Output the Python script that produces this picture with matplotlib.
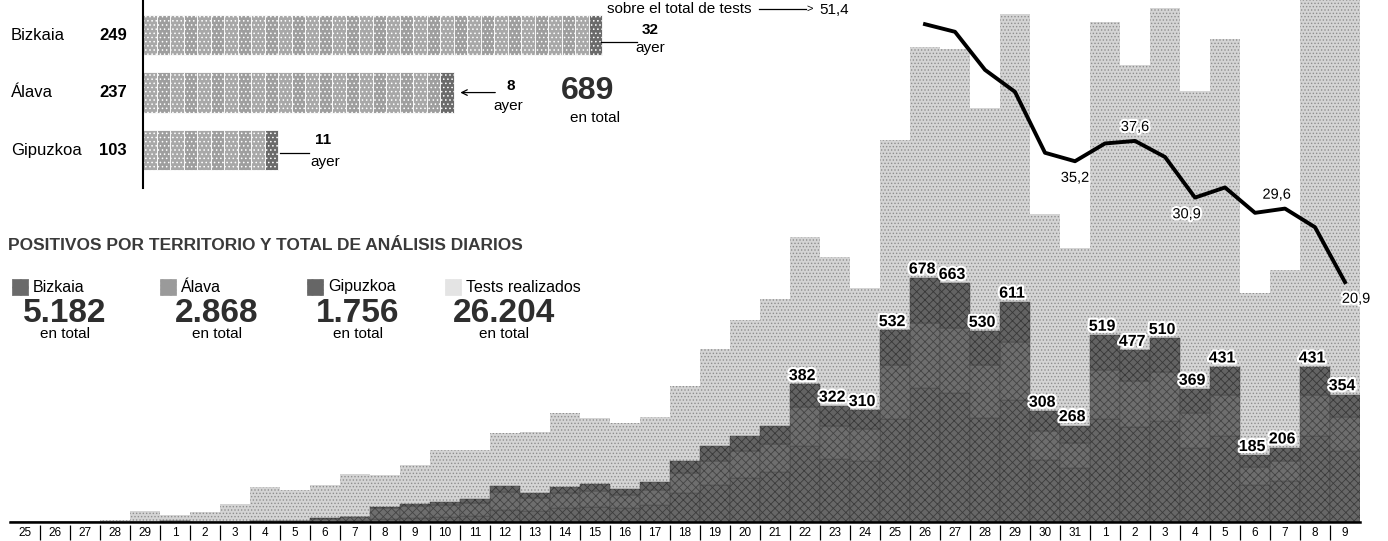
import matplotlib.pyplot as plt
import matplotlib.patheffects as pe
from matplotlib.patches import Rectangle
import numpy as np

plt.rcParams['font.family'] = ['Liberation Sans', 'DejaVu Sans']
plt.rcParams['hatch.linewidth'] = 0.6

# fechas del eje (25 feb - 9 abr)
dias = ['25', '26', '27', '28', '29'] + [str(d) for d in range(1, 32)] + [str(d) for d in range(1, 10)]

# positivos diarios por territorio
bizkaia = [0, 0, 0, 0, 0, 0, 0, 0, 0, 1, 1, 2, 8, 12, 14, 18, 34, 30, 38, 42, 38, 48, 80, 104, 122,
           138, 210, 175, 170, 285, 371, 358, 290, 339, 172, 150, 287, 265, 280, 205, 239, 104, 115, 239, 198]
alava = [0, 0, 0, 0, 0, 2, 1, 0, 4, 3, 8, 12, 30, 32, 34, 36, 50, 36, 42, 44, 36, 40, 56, 66, 74,
         80, 110, 92, 88, 150, 182, 182, 145, 160, 80, 70, 136, 128, 136, 98, 115, 48, 54, 115, 93]
gipuzkoa = [0, 0, 0, 0, 0, 0, 0, 0, 0, 0, 1, 1, 4, 6, 8, 10, 16, 14, 17, 19, 18, 22, 34, 40, 44,
            50, 62, 55, 52, 97, 125, 123, 95, 112, 56, 48, 96, 84, 94, 66, 77, 33, 37, 77, 63]
# tests realizados cada dia
tests = [2, 3, 3, 5, 30, 20, 28, 50, 97, 89, 103, 133, 130, 158, 200, 200, 247, 250, 303, 289,
         275, 292, 379, 480, 560, 620, 792, 736, 650, 1061, 1319, 1313, 1150, 1410, 855, 761,
         1390, 1269, 1429, 1196, 1343, 636, 700, 1573, 1694]
# % de positivos sobre el total de tests (desde el 26 de marzo)
porcentaje = [None] * 30 + [51.4, 50.5, 46.0, 43.4, 36.2, 35.2, 37.3, 37.6, 35.7, 30.9,
                            32.1, 29.1, 29.6, 27.4, 20.9]
etiquetas_pct = {35: '35,2', 37: '37,6', 39: '30,9', 42: '29,6', 44: '20,9'}

# bloque superior
territorios = ['Bizkaia', 'Álava', 'Gipuzkoa']
fallecidos = [249, 237, 103]
ayer = [32, 8, 11]
tramos = [34, 23, 10]

leyenda = ['Bizkaia', 'Álava', 'Gipuzkoa', 'Tests realizados']
totales = ['5.182', '2.868', '1.756', '26.204']

W, H = 1388, 541


def fx(px):
    return px / W


def fy(py):
    return 1 - py / H


fig = plt.figure(figsize=(W / 100, H / 100), dpi=100)
halo = [pe.withStroke(linewidth=3, foreground='white')]

# --- grafico principal ---
ax = fig.add_axes([fx(10), fy(522), (1350) / W, 522 / H])
x = np.arange(len(dias))
bz = np.array(bizkaia)
al = np.array(alava)
gi = np.array(gipuzkoa)
ax.bar(x, tests, width=1.0, color='#d4d4d4', hatch='.....', edgecolor='#8e8e8e', linewidth=0, zorder=1)
ax.bar(x, bz, width=1.0, color='#676767', hatch='xxxx', edgecolor='#3c3c3c', linewidth=0.3, zorder=2)
ax.bar(x, al, width=1.0, bottom=bz, color='#6e6e6e', hatch='xxxx', edgecolor='#444444', linewidth=0.3, zorder=2)
ax.bar(x, gi, width=1.0, bottom=bz + al, color='#636363', hatch='xxxx', edgecolor='#383838', linewidth=0.3, zorder=2)
ax.set_xlim(-0.5, len(dias) - 0.5)
ax.set_ylim(0, 1450)
for s in ['top', 'right', 'left']:
    ax.spines[s].set_visible(False)
ax.spines['bottom'].set_linewidth(1.8)
ax.set_xticks([])
ax.set_yticks([])
ax.patch.set_alpha(0)

total = bz + al + gi
for i in range(26, len(dias)):
    ax.annotate(str(total[i]), xy=(i, total[i]), xytext=(-2, 1), textcoords='offset points',
                ha='center', va='bottom', fontsize=11.5, fontweight='bold', zorder=5,
                path_effects=halo)

ax2 = ax.twinx()
ax2.set_ylim(-7.45, 54.26)
ax2.axis('off')
pct = np.array([np.nan if v is None else v for v in porcentaje])
ax2.plot(x, pct, color='black', lw=2.8, zorder=6)
for i, t in etiquetas_pct.items():
    dy = 10 if t in ('37,6', '29,6') else -12
    dx = 8 if t == '20,9' else (-6 if t in ('30,9', '29,6') else 0)
    ax2.annotate(t, xy=(i, pct[i]), xytext=(dx, dy), textcoords='offset points',
                 ha='center', va='center', fontsize=10.5, path_effects=halo)

fig.text(fx(607), fy(9), 'sobre el total de tests', fontsize=11, ha='left', va='center')
fig.add_artist(plt.Line2D([fx(759), fx(806)], [fy(9), fy(9)], color='black', lw=0.9))
fig.text(fx(810), fy(9), '>', fontsize=8, ha='center', va='center')
fig.text(fx(819), fy(10), '51,4', fontsize=11, ha='left', va='center')

# --- eje de fechas ---
axd = fig.add_axes([fx(10), 0, 1350 / W, 19 / H])
axd.set_xlim(-0.5, len(dias) - 0.5)
axd.set_ylim(0, 1)
axd.vlines(np.arange(0.5, len(dias) - 0.5, 1), 0.05, 0.85, color='black', lw=0.9)
for i, d in enumerate(dias):
    axd.text(i, 0.42, d, ha='center', va='center', fontsize=8.5)
axd.axis('off')

# --- bloque superior: barras por territorio ---
axt = fig.add_axes([fx(143), fy(188), 560 / W, 188 / H])
axt.set_xlim(0, 560 / 13.5)
axt.set_ylim(2.66, -0.61)
for j, n in enumerate(tramos):
    for k in range(n):
        c = '#6a6a6a' if k == n - 1 else ('#9e9e9e' if k % 2 else '#a8a8a8')
        axt.barh(j, 1, left=k, height=0.7, color=c, hatch='....', edgecolor='white',
                 linewidth=0.6)
for s in ['top', 'right', 'bottom']:
    axt.spines[s].set_visible(False)
axt.spines['left'].set_linewidth(1.5)
axt.set_xticks([])
axt.set_yticks([])
axt.patch.set_alpha(0)
for j, (t, v) in enumerate(zip(territorios, fallecidos)):
    axt.annotate(t, xy=(0, j), xytext=(-132, 0), textcoords='offset pixels',
                 ha='left', va='center', fontsize=12)
    axt.annotate(str(v), xy=(0, j), xytext=(-30, 0), textcoords='offset pixels',
                 ha='center', va='center', fontsize=12, fontweight='bold')

# notas "ayer"
fig.add_artist(plt.Line2D([fx(601), fx(637)], [fy(42), fy(42)], color='black', lw=0.9))
fig.text(fx(650), fy(30), str(ayer[0]), fontsize=11, fontweight='bold', ha='center', va='center')
fig.text(fx(650), fy(48), 'ayer', fontsize=11, ha='center', va='center')
axt.annotate('', xy=(tramos[1] + 0.3, 1), xytext=(tramos[1] + 3.3, 1),
             arrowprops=dict(arrowstyle='->', lw=0.9, color='black'))
fig.text(fx(511), fy(86), str(ayer[1]), fontsize=11, fontweight='bold', ha='center', va='center')
fig.text(fx(508), fy(106), 'ayer', fontsize=11, ha='center', va='center')
fig.add_artist(plt.Line2D([fx(280), fx(309)], [fy(153), fy(153)], color='black', lw=0.9))
fig.text(fx(323), fy(140), str(ayer[2]), fontsize=11, fontweight='bold', ha='center', va='center')
fig.text(fx(325), fy(162), 'ayer', fontsize=11, ha='center', va='center')
fig.text(fx(588), fy(91), '689', fontsize=23, fontweight='bold', color='#2e2e2e',
         ha='center', va='center')
fig.text(fx(595), fy(118), 'en total', fontsize=11, ha='center', va='center')

# --- titulo y leyenda ---
fig.text(fx(8), fy(246), 'POSITIVOS POR TERRITORIO Y TOTAL DE ANÁLISIS DIARIOS', fontsize=12.5,
         fontweight='bold', color='#3a3a3a', ha='left', va='center')
estilos = [dict(color='#6a6a6a', hatch='xxxx', edgecolor='#3c3c3c'),
           dict(color='#9a9a9a', hatch='xxxx', edgecolor='#5a5a5a'),
           dict(color='#666666', hatch='xxxx', edgecolor='#3a3a3a'),
           dict(color='#e4e4e4', hatch='.....', edgecolor='#9a9a9a')]
cuadros = [12, 160, 307, 445]
centros = [65, 217, 358, 504]
for nom, tot, x0, cx, st in zip(leyenda, totales, cuadros, centros, estilos):
    fig.add_artist(Rectangle((fx(x0), fy(295)), 16 / W, 16 / H, linewidth=0.5, **st))
    fig.text(fx(x0 + 21), fy(287), nom, fontsize=11.5, ha='left', va='center')
    fig.text(fx(cx), fy(313), tot, fontsize=24, fontweight='bold', color='#2e2e2e',
             ha='center', va='center')
    fig.text(fx(cx), fy(334), 'en total', fontsize=11, ha='center', va='center')

fig.savefig('out.png', dpi=100)
